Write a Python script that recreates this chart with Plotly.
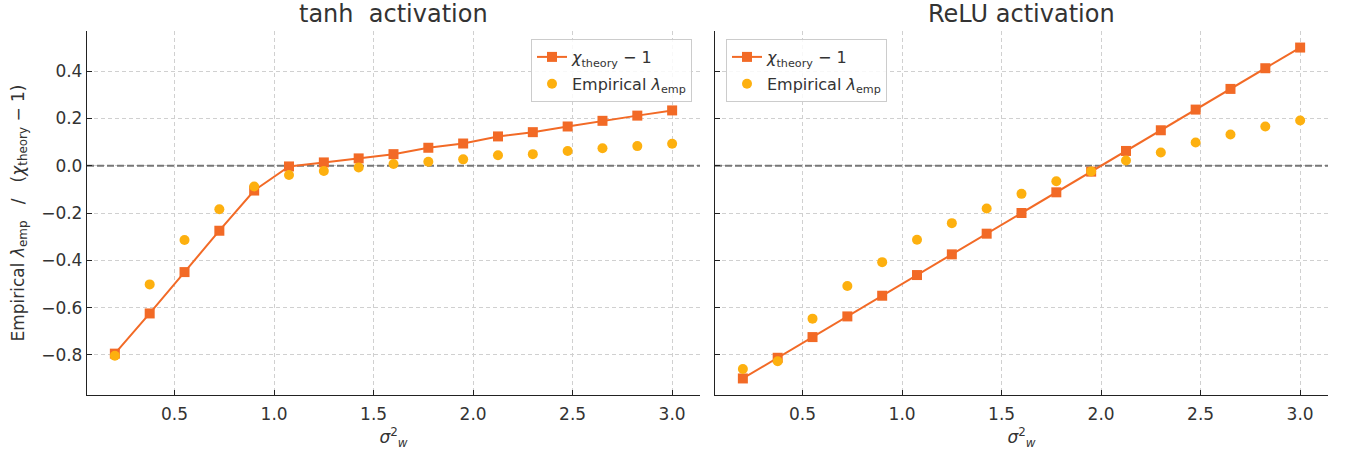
import plotly.graph_objects as go

sigma_w2 = [0.2, 0.375, 0.55, 0.725, 0.9, 1.075, 1.25, 1.425, 1.6, 1.775,
            1.95, 2.125, 2.3, 2.475, 2.65, 2.825, 3.0]

tanh_theory = [-0.795, -0.625, -0.45, -0.275, -0.105, -0.003, 0.014, 0.031, 0.049,
               0.076, 0.094, 0.124, 0.142, 0.166, 0.19, 0.212, 0.234]
tanh_emp = [-0.804, -0.502, -0.314, -0.184, -0.088, -0.039, -0.022, -0.007, 0.007,
            0.017, 0.027, 0.044, 0.049, 0.062, 0.074, 0.083, 0.093]

relu_theory = [-0.9, -0.8125, -0.725, -0.6375, -0.55, -0.4625, -0.375, -0.2875, -0.2,
               -0.1125, -0.025, 0.0625, 0.15, 0.2375, 0.325, 0.4125, 0.5]
relu_emp = [-0.86, -0.827, -0.647, -0.509, -0.408, -0.313, -0.243, -0.181, -0.119,
            -0.066, -0.024, 0.022, 0.056, 0.098, 0.132, 0.166, 0.191]

reference_level = 0.0

titles = ["tanh  activation", "ReLU activation"]
x_ticks = [0.5, 1.0, 1.5, 2.0, 2.5, 3.0]
y_ticks = [-0.8, -0.6, -0.4, -0.2, 0.0, 0.2, 0.4]

C_THEORY = "#F26A26"
C_EMP = "#FDB00F"
TXT = "#333333"
FONT = "DejaVu Sans"

W, H = 1351, 455
xr = [0.06, 3.14]
yr = [-0.97, 0.57]

fig = go.Figure()

panels = [(tanh_theory, tanh_emp, "x", "y", "legend"),
          (relu_theory, relu_emp, "x2", "y2", "legend2")]
for th, em, xa, ya, lg in panels:
    fig.add_trace(go.Scatter(
        x=xr, y=[reference_level, reference_level], xaxis=xa, yaxis=ya,
        mode="lines", showlegend=False, hoverinfo="skip", cliponaxis=True,
        line=dict(color="#777777", width=2, dash="7px,3px")))
    fig.add_trace(go.Scatter(
        x=sigma_w2, y=th, xaxis=xa, yaxis=ya, legend=lg, legendgroup=lg + "a",
        mode="lines+markers", name="<i>χ</i><sub>theory</sub> − 1",
        line=dict(color=C_THEORY, width=2),
        marker=dict(symbol="square", size=10, color=C_THEORY)))
    fig.add_trace(go.Scatter(
        x=sigma_w2, y=em, xaxis=xa, yaxis=ya, legend=lg, legendgroup=lg + "b",
        mode="markers", name="Empirical <i>λ</i><sub>emp</sub>",
        marker=dict(symbol="circle", size=10, color=C_EMP)))

axis_common = dict(
    showgrid=True, gridcolor="#d0d0d0", griddash="4px,3px", gridwidth=1,
    ticks="inside", ticklen=5, tickcolor="#222", tickwidth=1,
    showline=True, linecolor="#222", linewidth=1.3, zeroline=False,
    tickfont=dict(family=FONT, size=17, color=TXT),
)
xtitle = dict(text="<i>σ</i><sup>2</sup><sub><i>w</i></sub>",
              font=dict(size=17, family=FONT, color=TXT), standoff=8)
fig.update_layout(
    width=W, height=H,
    margin=dict(l=0, r=0, t=0, b=0),
    paper_bgcolor="white", plot_bgcolor="white",
    font=dict(family=FONT, color=TXT),
    xaxis=dict(domain=[87 / W, 700 / W], range=xr, tickvals=x_ticks, tickformat=".1f",
               anchor="y", title=xtitle, ticklabelstandoff=3, **axis_common),
    yaxis=dict(domain=[1 - 395 / H, 1 - 31 / H], range=yr, tickvals=y_ticks, tickformat=".1f",
               anchor="x",
               title=dict(text="Empirical <i>λ</i><sub>emp</sub>\u00a0\u00a0\u00a0/\u00a0\u00a0\u00a0(<i>χ</i><sub>theory</sub> − 1)",
                          font=dict(size=17, family=FONT, color=TXT), standoff=12),
               **axis_common),
    xaxis2=dict(domain=[715 / W, 1328 / W], range=xr, tickvals=x_ticks, tickformat=".1f",
                anchor="y2", title=xtitle, ticklabelstandoff=3, **axis_common),
    yaxis2=dict(domain=[1 - 395 / H, 1 - 31 / H], range=yr, tickvals=y_ticks, showticklabels=False,
                anchor="x2", matches="y", **axis_common),
    legend=dict(x=692 / W, y=1 - 39 / H, xanchor="right", yanchor="top",
                bgcolor="rgba(255,255,255,0.85)", bordercolor="#cccccc", borderwidth=1,
                font=dict(family=FONT, size=16, color=TXT), tracegroupgap=3),
    legend2=dict(x=726 / W, y=1 - 39 / H, xanchor="left", yanchor="top",
                 bgcolor="rgba(255,255,255,0.85)", bordercolor="#cccccc", borderwidth=1,
                 font=dict(family=FONT, size=16, color=TXT), tracegroupgap=3),
    showlegend=True,
)

for t, cx in zip(titles, [393.5 / W, 1021.5 / W]):
    fig.add_annotation(text=t, xref="paper", yref="paper", x=cx, y=1 - 14 / H,
                       xanchor="center", yanchor="middle", showarrow=False,
                       font=dict(family=FONT, size=24, color=TXT))

fig.write_html("out.html", config={"displayModeBar": False},
               post_script="document.body.style.margin='0';document.body.style.padding='0';")
